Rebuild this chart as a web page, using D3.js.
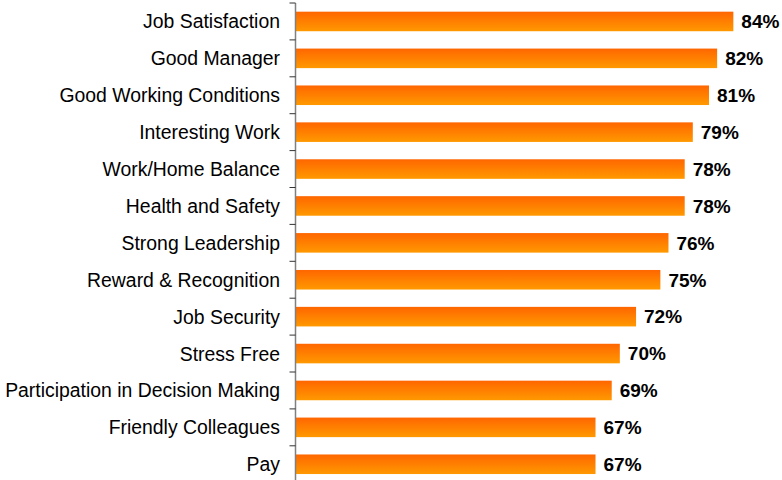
<!DOCTYPE html>
<html>
<head>
<meta charset="utf-8">
<script src="https://cdnjs.cloudflare.com/ajax/libs/d3/7.8.5/d3.min.js"></script>
<style>
  body { margin: 0; background: #fff; }
  svg { display: block; }
  .catLabel { font-family: "Liberation Sans", Arial, sans-serif; font-size: 19.4px; fill: #000; }
  .valLabel { font-family: "Liberation Sans", Arial, sans-serif; font-size: 19px; font-weight: bold; fill: #000; }
</style>
</head>
<body>
<div id="chart"></div>
<script>
// Data
var categories = ["Job Satisfaction", "Good Manager", "Good Working Conditions", "Interesting Work",
  "Work/Home Balance", "Health and Safety", "Strong Leadership", "Reward & Recognition",
  "Job Security", "Stress Free", "Participation in Decision Making", "Friendly Colleagues", "Pay"];
var values = [84, 82, 81, 79, 78, 78, 76, 75, 72, 70, 69, 67, 67];

var W = 782, H = 480;
var svg = d3.select("#chart").append("svg")
    .attr("width", W)
    .attr("height", H);

// gradient for the bars
var grad = svg.append("defs").append("linearGradient")
    .attr("id", "barGrad")
    .attr("x1", 0).attr("y1", 0).attr("x2", 0).attr("y2", 1);
grad.append("stop").attr("offset", "0%").attr("stop-color", "#ff6600");
grad.append("stop").attr("offset", "100%").attr("stop-color", "#ff9900");

var axisX = 295.5;
var x = d3.scaleLinear()
    .domain([30, 90])
    .range([axisX, W]);
var y = d3.scaleBand()
    .domain(categories)
    .range([3, 3 + 13 * 36.9])
    .paddingInner(0.47)
    .paddingOuter(0.235);

// bars
svg.selectAll(".bar")
  .data(values)
  .enter()
  .append("rect")
    .attr("class", "bar")
    .attr("x", axisX)
    .attr("y", function(d, i){ return y(categories[i]); })
    .attr("width", function(d){ return x(d) - axisX; })
    .attr("height", y.bandwidth())
    .attr("fill", "url(#barGrad)");

// value labels
svg.selectAll(".valLabel")
  .data(values)
  .enter()
  .append("text")
    .attr("class", "valLabel")
    .attr("x", function(d){ return x(d) + 8; })
    .attr("y", function(d, i){ return y(categories[i]) + y.bandwidth() / 2; })
    .attr("dy", "0.36em")
    .text(function(d){ return d + "%"; });

// left axis
var yAxis = d3.axisLeft(y)
    .tickSize(0)
    .tickPadding(15.5);
var axisG = svg.append("g")
    .attr("transform", "translate(" + axisX + ",0)")
    .call(yAxis);
axisG.select(".domain").remove();
axisG.selectAll("text")
    .attr("class", "catLabel")
    .attr("font-size", null)
    .attr("font-family", null)
    .attr("dy", "0.36em");

// axis line and tick marks between categories
svg.append("line")
    .attr("x1", axisX).attr("x2", axisX)
    .attr("y1", 3).attr("y2", H)
    .attr("stroke", "#808080")
    .attr("stroke-width", 1.5);
var bounds = d3.range(categories.length + 1).map(function(i){ return 3 + i * 36.9; });
svg.selectAll(".tickMark")
  .data(bounds)
  .enter()
  .append("line")
    .attr("class", "tickMark")
    .attr("x1", axisX - 6).attr("x2", axisX)
    .attr("y1", function(d){ return d; })
    .attr("y2", function(d){ return d; })
    .attr("stroke", "#333")
    .attr("stroke-width", 1);
</script>
</body>
</html>
